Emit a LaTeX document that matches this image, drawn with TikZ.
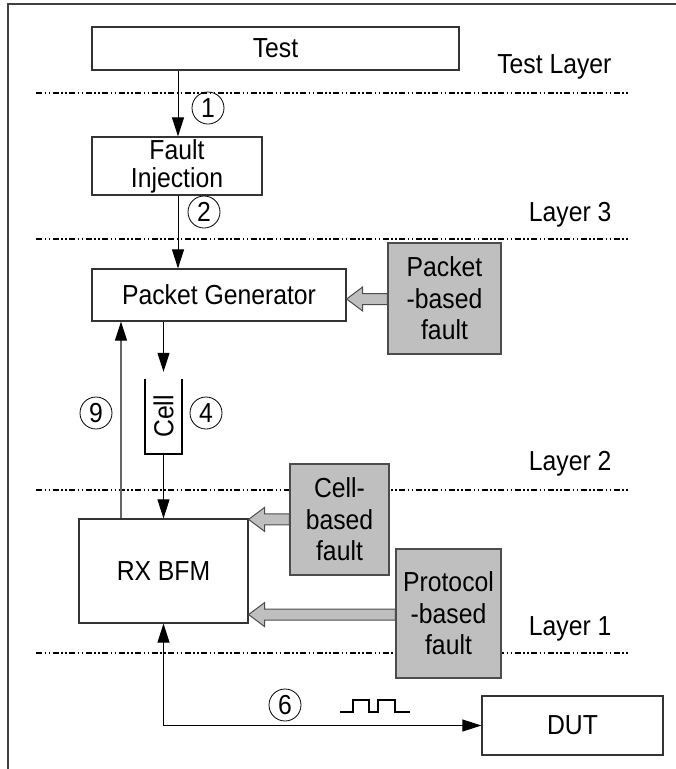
\documentclass[tikz,border=0pt]{standalone}
\usepackage{fontspec}
\setmainfont{Liberation Sans}[FakeStretch=0.9]
\usetikzlibrary{arrows.meta,calc}
\begin{document}
\begin{tikzpicture}[x=1pt,y=-1pt,
  every node/.style={font=\fontsize{27.5}{29}\selectfont},
  wbox/.style={draw=black!80,line width=1.2pt,fill=white,inner sep=0pt,align=center},
  gbox/.style={draw=black!70,line width=1.2pt,fill=black!25,inner sep=0pt,align=center,font=\fontsize{27.5}{31.5}\selectfont},
  circ/.style={draw,circle,line width=0.8pt,minimum size=32pt,inner sep=0pt},
  arr/.style={line width=1pt,-{Triangle[length=19pt,width=12pt]}},
  dd/.style={line width=1.5pt,dash pattern=on 6pt off 2.5pt on 1.5pt off 2.5pt on 1.5pt off 2.5pt},
  barrow/.style={draw=black!70,line width=1pt,fill=black!25,line join=miter},
  lay/.style={anchor=base east}]
\useasboundingbox (0,0) rectangle (676,769);
% frame
\draw[line width=1.5pt,black!75] (8,769) -- (8,4) -- (676,4);
% layer separators
\draw[dd] (36,93) -- (629,93);
\draw[dd] (36,239) -- (629,239);
\draw[dd] (36,490) -- (629,490);
\draw[dd] (36,653) -- (629,653);
% layer labels
\node[lay] (l0) at (615,73.5) {Test Layer};
\node[lay] (l3) at (615,221.5) {Layer 3};
\node[lay] (l2) at (615,470.5) {Layer 2};
\node[lay] (l1) at (615,635.5) {Layer 1};
% boxes
\node[wbox,minimum width=367pt,minimum height=43pt] (test) at (275.5,48.5) {Test};
\node[wbox,minimum width=170pt,minimum height=58pt,font=\fontsize{27.5}{28}\selectfont] (fault) at (177,166) {Fault\\Injection};
\node[wbox,minimum width=254pt,minimum height=52pt] (pg) at (219,295) {Packet Generator};
\node[wbox,minimum width=169pt,minimum height=104pt] (rx) at (163.5,571) {RX BFM};
\node[wbox,minimum width=181pt,minimum height=59pt] (dut) at (572.5,725.5) {DUT};
% block arrows
\newcommand{\blockarr}[2]{%
  \draw[barrow] let \p1=(#1), \p2=(#2) in
   (\x1,\y1) -- (\x1+16pt,\y1+12pt) -- (\x1+16pt,\y1+5.5pt) -- (\x2,\y1+5.5pt)
   -- (\x2,\y1-5.5pt) -- (\x1+16pt,\y1-5.5pt) -- (\x1+16pt,\y1-12pt) -- cycle;}
\coordinate (tipA) at ($(pg.east)+(0,4)$);
\coordinate (tipB) at ($(rx.north east)+(0,1)$);
\coordinate (tipC) at ($(rx.south east)+(0,-9)$);
\node[gbox,minimum width=113pt,minimum height=111pt] (pbf) at (444.5,298.5) {Packet\\-based\\fault};
\node[gbox,minimum width=99pt,minimum height=111pt] (cbf) at (339.5,519.5) {Cell-\\based\\fault};
\node[gbox,minimum width=105pt,minimum height=129pt] (prf) at (448.5,613.5) {Protocol\\-based\\fault};
\blockarr{tipA}{pbf.west}
\blockarr{tipB}{cbf.west}
\blockarr{tipC}{prf.west}
% redraw box borders over arrow tails
\draw[draw=black!70,line width=1.2pt] (pbf.north west) rectangle (pbf.south east);
\draw[draw=black!70,line width=1.2pt] (cbf.north west) rectangle (cbf.south east);
\draw[draw=black!70,line width=1.2pt] (prf.north west) rectangle (prf.south east);
% cell queue
\node[minimum width=37pt,minimum height=75pt,inner sep=0pt] (cell) at (163.5,416.5) {};
\node[rotate=90] (celltxt) at (cell) {Cell};
\draw[line width=2pt] (cell.north west) -- (cell.south west) -- (cell.south east) -- (cell.north east);
% columns
\coordinate (c1) at (178,0);
\coordinate (c2) at (163.5,0);
\coordinate (c9) at (121,0);
\coordinate (qin) at ($(cell.north)+(0,-7)$);
% connectors
\draw[arr] (test.south -| c1) -- (fault.north -| c1);
\draw[arr] (fault.south -| c1) -- (pg.north -| c1);
\draw[arr] (pg.south -| c2) -- (qin);
\draw[arr] (cell.south) -- (rx.north -| c2);
\draw[line width=1.2pt,black!60,-{Triangle[length=19pt,width=12pt,color=black]}] (rx.north -| c9) -- (pg.south -| c9);
\draw[line width=1pt,{Triangle[length=19pt,width=12pt]}-{Triangle[length=19pt,width=12pt]}] (rx.south -| c2) -- (c2 |- dut.west) -- (dut.west);
% step numbers
\node[circ] (n1) at (208,108) {1};
\node[circ] (n2) at (204,212) {2};
\node[circ] (n9) at (96,413) {9};
\node[circ] (n4) at (206,413) {4};
\node[circ] (n6) at (285,705) {6};
% pulse waveform
\draw[line width=1.5pt] (340,712) -- (353,712) -- (353,700) -- (369,700) -- (369,712) -- (378,712) -- (378,700) -- (395,700) -- (395,712) -- (410,712);
\end{tikzpicture}
\end{document}
